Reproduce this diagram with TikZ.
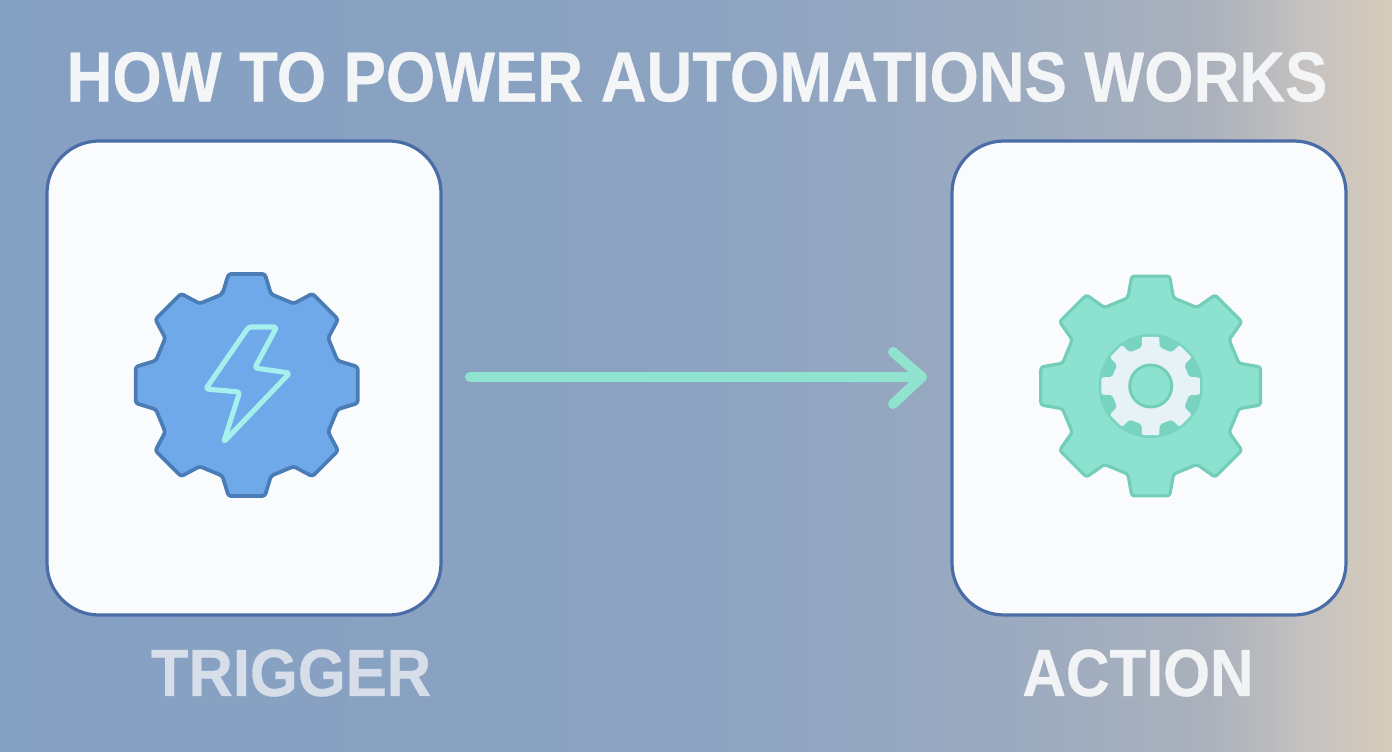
\documentclass[tikz,border=0pt]{standalone}
\usepackage{fontspec}
\setmainfont[BoldFeatures={FakeBold=0.5}]{Liberation Sans}
\usetikzlibrary{arrows.meta}
\definecolor{bgA}{HTML}{84A0C3}
\definecolor{bgB}{HTML}{8CA3C1}
\definecolor{bgC}{HTML}{9AAAC0}
\definecolor{bgD}{HTML}{ABB1BC}
\definecolor{bgF}{HTML}{C6C2C0}
\definecolor{bgE}{HTML}{D6CCBB}
\definecolor{cardedge}{HTML}{4A6DA8}
\definecolor{cardfill}{HTML}{FAFBFC}
\definecolor{bluefill}{HTML}{6FA9EA}
\definecolor{blueedge}{HTML}{4A7DB5}
\definecolor{mint}{HTML}{8DE2CF}
\definecolor{mintedge}{HTML}{72CDB9}
\definecolor{mintdark}{HTML}{78D4C0}
\definecolor{pale}{HTML}{E6F2F5}
\definecolor{bolt}{HTML}{A5F0EC}
\definecolor{arrowc}{HTML}{8FE3CF}
\definecolor{titlec}{HTML}{F4F5F6}
\definecolor{trigc}{HTML}{D8DEE9}
\definecolor{actc}{HTML}{F2F3F5}
\pgfdeclarehorizontalshading{bgshade}{100bp}{
 color(0bp)=(bgA); color(25bp)=(bgA); color(50bp)=(bgB); color(61bp)=(bgC); color(68.5bp)=(bgD); color(72bp)=(bgF); color(75bp)=(bgE); color(100bp)=(bgE)}
\tikzset{
 x=0.75pt,y=-0.75pt,
 card/.style={draw=cardedge,line width=2.4pt,fill=cardfill,rounded corners=39pt,minimum width=295.5pt,minimum height=355.5pt,inner sep=0pt},
 bigtext/.style={font=\bfseries\fontsize{53}{58}\selectfont,inner sep=0pt},
 labeltext/.style={font=\bfseries\fontsize{50}{55}\selectfont,inner sep=0pt},
 flow/.style={draw=arrowc,line width=7.5pt,line cap=round,line join=round},
}
% #1 tip radius, #2 base radius, #3 valley radius, #4 tip half-angle, #5 base half-angle
\newcommand{\gearpath}[5]{
 (-90-#5:#2)
 \foreach \a in {-90,-45,0,45,90,135,180,225}{
  -- (\a-#5:#2) -- (\a-#4:#1) -- (\a+#4:#1) -- (\a+#5:#2) -- (\a+22.5:#3)
 } -- cycle
}
\begin{document}
\begin{tikzpicture}
\useasboundingbox (0,0) rectangle (1392,752);
\shade[shading=bgshade] (0,0) rectangle (1392,752);
\node[bigtext,text=titlec] (title) at (697,77) {\scalebox{0.897}[1]{HOW TO POWER AUTOMATIONS WORKS}};
\node[card] (trigger) at (244,378) {};
\node[card] (action) at (1149,378) {};
\node[labeltext,text=trigc] (trigtext) at (291,673) {\scalebox{0.923}[1]{TRIGGER}};
\node[labeltext,text=actc] (acttext) at (1138,673) {\scalebox{0.905}[1]{ACTION}};
\coordinate (arrowstart) at (470,377);
\coordinate (arrowend) at (922,377);
\coordinate (tipa) at (893,352);
\coordinate (tipb) at (893,404);
\draw[flow] (arrowstart) -- (arrowend);
\draw[flow] (tipa) -- (arrowend) -- (tipb);
% left gear
\begin{scope}[shift={(246.7,385)}]
\draw[fill=bluefill,draw=blueedge,line width=2.8pt,rounded corners=2pt,line join=round]
 \gearpath{112.5}{94}{93.2}{9.3}{15};
\draw[draw=bolt,line width=3.8pt,line join=round,rounded corners=2pt]
 (2,-58) -- (30,-58) -- (8,-17) -- (43,-12) -- (-23,57) -- (-7,7) -- (-41,4) -- cycle;
\end{scope}
% right gear
\begin{scope}[shift={(1150.7,386)}]
\draw[fill=mint,draw=mintedge,line width=2.4pt,rounded corners=2pt,line join=round]
 \gearpath{111.5}{91}{90.2}{9.8}{14.5};
\fill[mintdark] (0,0) circle[radius=52];
\fill[pale,rounded corners=1.5pt] \gearpath{50}{39.5}{39}{10}{13};
\draw[fill=mint,draw=mintedge,line width=2.2pt] (0,0) circle[radius=21];
\end{scope}
\end{tikzpicture}
\end{document}
